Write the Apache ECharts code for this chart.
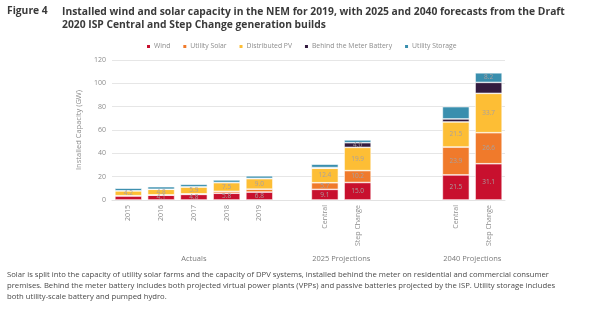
<!DOCTYPE html>
<html>
<head>
<meta charset="utf-8">
<script src="https://cdn.jsdelivr.net/npm/echarts@6/dist/echarts.min.js"></script>
<style>
html,body{margin:0;padding:0;background:#fff;}
#c{width:600px;height:321px;}
</style>
</head>
<body>
<div id="c"></div>
<script>
// ---- data ----
var categories = ['2015','2016','2017','2018','2019','','Central','Step Change','','','Central','Step Change'];
var windValues          = [3.5, 4.1, 4.8, 5.8, 6.8, null, 9.1, 15.0, null, null, 21.5, 31.1];
var utilitySolarValues  = [0.2, 0.3, 0.5, 1.6, 2.5, null, 5.7, 10.2, null, null, 23.9, 26.6];
var distributedPVValues = [4.2, 4.8, 5.9, 7.5, 9.0, null, 12.4, 19.9, null, null, 21.5, 33.7];
var btmBatteryValues    = [0.0, 0.0, 0.05, 0.1, 0.2, null, 0.6, 4.0, null, null, 2.6, 9.4];
var utilityStorageValues= [2.2, 2.2, 2.2, 2.2, 2.2, null, 2.9, 2.4, null, null, 10.5, 8.2];
// which bar segments carry a printed value in the source
var windLabelIdx    = [1,2,3,4,6,7,10,11];
var solarLabelIdx   = [6,7,10,11];
var dpvLabelIdx     = [0,1,2,3,4,6,7,10,11];
var btmLabelIdx     = [7];
var storageLabelIdx = [11];
var yTicks = [0,20,40,60,80,100,120];
var groups = [
  {name:'Actuals', from:0, to:4},
  {name:'2025 Projections', from:6, to:7},
  {name:'2040 Projections', from:10, to:11}
];
var seriesNames = ['Wind','Utility Solar','Distributed PV','Behind the Meter Battery','Utility Storage'];
var caption = [
  'Solar is split into the capacity of utility solar farms and the capacity of DPV systems, installed behind the meter on residential and commercial consumer',
  'premises. Behind the meter battery includes both projected virtual power plants (VPPs) and passive batteries projected by the ISP. Utility storage includes',
  'both utility-scale battery and pumped hydro.'
];

var colors = ['#C8102E','#F07A2B','#FDBE35','#331B3F','#3A8FAE'];
var FONT = 'Open Sans';

function mk(vals, idx){
  return vals.map(function(v,i){
    if (v === null) return '-';
    return {value:v, label:{show: idx.indexOf(i) >= 0}};
  });
}
var valueSets = [windValues, utilitySolarValues, distributedPVValues, btmBatteryValues, utilityStorageValues];
var labelSets = [windLabelIdx, solarLabelIdx, dpvLabelIdx, btmLabelIdx, storageLabelIdx];

var series = valueSets.map(function(vals, k){
  return {
    name: seriesNames[k],
    type: 'bar',
    stack: 'total',
    barWidth: 27,
    data: mk(vals, labelSets[k]),
    itemStyle: {color: colors[k], borderColor:'#ffffff', borderWidth:0.6},
    label: {
      show: false, position:'inside', color:'#a8a0a0', fontSize:6.5, fontFamily: FONT,
      formatter: function(p){ return Number(p.value).toFixed(1); }
    },
    emphasis:{disabled:true}
  };
});

var chart = echarts.init(document.getElementById('c'), null, {renderer:'canvas'});
var option = {
  animation:false,
  color: colors,
  textStyle:{fontFamily: FONT},
  legend: {
    top: 38, left: 140,
    itemWidth: 5, itemHeight: 5, itemGap: 11,
    icon: 'rect',
    textStyle: {fontSize: 6.8, color:'#8c8c8c', fontFamily: FONT, padding:[0,0,0,-2]},
    data: seriesNames
  },
  grid: {left: 112, right: 95, top: 60, bottom: 121, containLabel:false},
  xAxis: {
    type:'category', data: categories,
    axisLine:{show:true, lineStyle:{color:'#e2e2e2'}},
    axisTick:{show:false},
    axisLabel:{rotate:90, fontSize:7, color:'#8c8c8c', margin:5, interval:0, fontFamily: FONT}
  },
  yAxis: {
    type:'value', min:0, max:120, interval:20,
    name:'Installed Capacity (GW)', nameLocation:'middle', nameGap:18, nameRotate:90,
    nameTextStyle:{fontSize:7.5, color:'#8c8c8c', fontFamily: FONT},
    axisLine:{show:false}, axisTick:{show:false},
    axisLabel:{fontSize:7, color:'#8c8c8c', margin:6, fontFamily: FONT,
      formatter:function(v){ return yTicks.indexOf(v)>=0 ? String(v) : ''; }},
    splitLine:{lineStyle:{color:'#e6e6e6', width:1}}
  },
  series: series,
  graphic: []
};
chart.setOption(option);

var gfx = [];
gfx.push({type:'text', left:7, top:6, style:{text:'Figure 4', font:'bold 10.3px "Open Sans"', fill:'#3a3a3a'}});
gfx.push({type:'text', left:62, top:6, style:{text:'Installed wind and solar capacity in the NEM for 2019, with 2025 and 2040 forecasts from the Draft\n2020 ISP Central and Step Change generation builds', font:'bold 10.3px "Open Sans"', fill:'#3a3a3a', lineHeight:13}});
groups.forEach(function(g){
  var a = chart.convertToPixel({xAxisIndex:0}, g.from);
  var b = chart.convertToPixel({xAxisIndex:0}, g.to);
  gfx.push({type:'text', x:(a+b)/2, y:259, style:{text:g.name, font:'7.5px "Open Sans"', fill:'#7a7a7a', textAlign:'center', textVerticalAlign:'middle'}});
});
caption.forEach(function(line, i){
  gfx.push({type:'text', x:7, y:275 + i*11, style:{text:line, font:'7.7px "Open Sans"', fill:'#4a4a4a', textVerticalAlign:'middle'}});
});
chart.setOption({graphic: gfx});
</script>
</body>
</html>
